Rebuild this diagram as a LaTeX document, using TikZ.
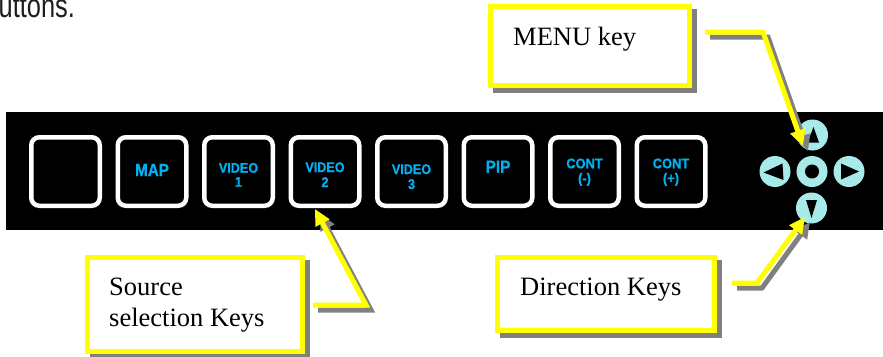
\documentclass[tikz,border=0pt]{standalone}
\usepackage{fontspec}
\setmainfont{Liberation Serif}
\newfontfamily\arialfont{Liberation Sans}
\newfontfamily\arialbold{Liberation Sans Bold}[FakeBold=1]
\usetikzlibrary{arrows.meta,calc}
\definecolor{keytext}{RGB}{0,176,240}
\definecolor{keycyan}{RGB}{168,234,234}
\definecolor{calloutyellow}{RGB}{255,255,0}
\definecolor{shadowgray}{RGB}{128,128,128}
\definecolor{toptext}{RGB}{30,30,30}
\newcommand{\narrowtxt}[2]{\scalebox{#1}[1]{#2}}
\tikzset{
  keybtn/.style={draw=white, line width=4.5pt, rounded corners=8pt, minimum width=68.5pt, minimum height=68.5pt, inner sep=0pt, fill=black},
  keylbl/.style={text=keytext, font=\arialbold\fontsize{14}{16}\selectfont, anchor=base, inner sep=0pt},
  biglbl/.style={keylbl, font=\arialbold\fontsize{17.5}{19}\selectfont},
  dirkey/.style={circle, fill=keycyan, minimum size=31pt, inner sep=0pt},
  callbox/.style={draw=calloutyellow, fill=white, line width=5pt, inner sep=0pt},
  callshadow/.style={draw=shadowgray, fill=shadowgray, line width=5pt, inner sep=0pt},
  calltext/.style={anchor=base west, inner sep=0pt, font=\fontsize{26.5}{31}\selectfont},
  callline/.style={draw=calloutyellow, line width=5pt, line join=miter, -{Triangle[length=16pt,width=15pt]}},
  callshadowline/.style={callline, draw=shadowgray, transform canvas={shift={(5pt,-5pt)}}},
}
\begin{document}
\begin{tikzpicture}[x=1pt,y=-1pt]
\path[use as bounding box] (0,0) rectangle (883,356);
\clip (0,0) rectangle (883,356);
\fill[white] (0,0) rectangle (883,356);

% partial text at top (cut off in the original too)
\node[anchor=base west, inner sep=0pt, text=toptext, font=\arialfont\fontsize{33}{36}\selectfont] (toptxt) at (-1.5,17.5) {\narrowtxt{0.77}{uttons.}};

% black panel
\fill[black] (6,112) rectangle (883,230);

% buttons
\foreach \i in {1,...,8} {
  \node[keybtn] (b\i) at ({65.5+86.5*(\i-1)},171.5) {};
}
\node[biglbl] (l2) at (152,176) {\narrowtxt{0.87}{MAP}};
\node[keylbl] (l3a) at (238.5,172.7) {\narrowtxt{0.9}{VIDEO}};
\node[keylbl] (l3b) at (238.5,186.7) {\narrowtxt{0.9}{1}};
\node[keylbl] (l4a) at (325,172) {\narrowtxt{0.9}{VIDEO}};
\node[keylbl] (l4b) at (325,187) {\narrowtxt{0.9}{2}};
\node[keylbl] (l5a) at (411.5,174) {\narrowtxt{0.9}{VIDEO}};
\node[keylbl] (l5b) at (411.5,189) {\narrowtxt{0.9}{3}};
\node[biglbl] (l6) at (498,172.7) {\narrowtxt{0.88}{PIP}};
\node[keylbl] (l7a) at (584.5,168.3) {\narrowtxt{0.92}{CONT}};
\node[keylbl] (l7b) at (584.5,183) {\narrowtxt{0.92}{(-)}};
\node[keylbl] (l8a) at (671,168.3) {\narrowtxt{0.92}{CONT}};
\node[keylbl] (l8b) at (671,183) {\narrowtxt{0.92}{(+)}};

% direction keys
\node[dirkey] (kup) at (812.5,135) {};
\node[dirkey] (kleft) at (775,171.5) {};
\node[dirkey] (kmid) at (812,171.5) {};
\node[dirkey] (kright) at (849,171.5) {};
\node[dirkey] (kdown) at (811.5,208) {};
\fill[black, shift={(kup.center)}] (1,-8) -- (6.5,7.5) -- (-5,7.5) -- cycle;
\fill[black, shift={(kdown.center)}] (-5.5,-8) -- (5.5,-8) -- (0,10) -- cycle;
\fill[black, shift={(kleft.center)}] (-11.5,1) -- (7.5,-8) -- (8.5,8.5) -- cycle;
\fill[black, shift={(kright.center)}] (10,0) -- (-8,-8) -- (-8,8) -- cycle;
\fill[black] (kmid.center) circle (7);

% callout boxes
\node[callshadow, minimum width=199pt, minimum height=79pt] (menushadow) at (595,51) {};
\node[callbox, minimum width=199pt, minimum height=79pt] (menubox) at (590,46) {};
\node[calltext] (menutext) at (513,45) {MENU key};

\node[callshadow, minimum width=215pt, minimum height=94pt] (srcshadow) at (200,309.5) {};
\node[callbox, minimum width=215pt, minimum height=94pt] (srcbox) at (195,304.5) {};
\node[calltext] (srctext1) at (109,295) {Source};
\node[calltext] (srctext2) at (109,326) {selection Keys};

\node[callshadow, minimum width=217pt, minimum height=73pt] (dirshadow) at (611,299) {};
\node[callbox, minimum width=217pt, minimum height=73pt] (dirbox) at (606,294) {};
\node[calltext] (dirtext) at (520,295) {Direction Keys};

% callout connectors
\coordinate (m1) at (705,32);
\coordinate (m2) at (763,32);
\coordinate (mtip) at (803,146);
\coordinate (s1) at (313,305);
\coordinate (s2) at (366,305);
\coordinate (stip) at (315,209);
\coordinate (d1) at (732,283);
\coordinate (d2) at (757,283);
\coordinate (dtip) at (805,217);

\draw[callshadowline] (m1) -- (m2) -- (mtip);
\draw[callshadowline] (s1) -- (s2) -- (stip);
\draw[callshadowline] (d1) -- (d2) -- (dtip);
\draw[callline] (m1) -- (m2) -- (mtip);
\draw[callline] (s1) -- (s2) -- (stip);
\draw[callline] (d1) -- (d2) -- (dtip);
\end{tikzpicture}
\end{document}
